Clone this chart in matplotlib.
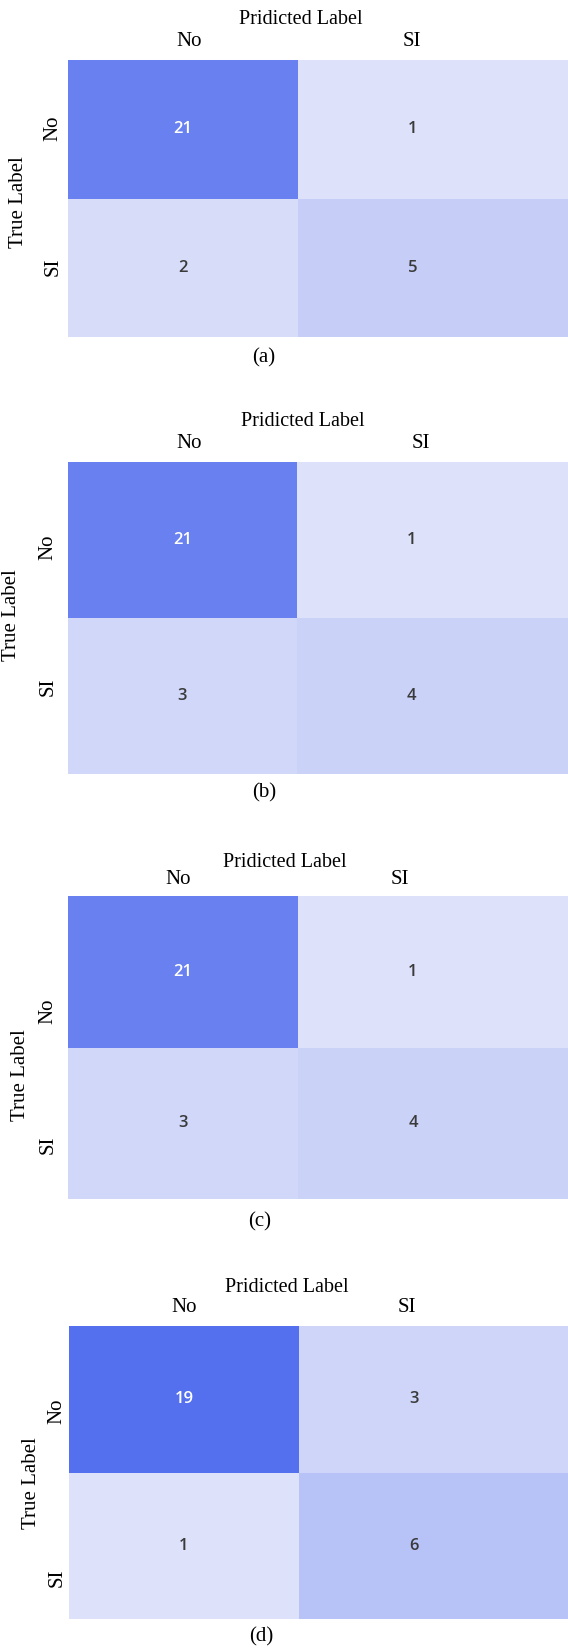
import matplotlib
matplotlib.use('Agg')
import matplotlib.pyplot as plt
import numpy as np
from matplotlib.colors import LinearSegmentedColormap

# ---------------- data ----------------
categories = ['No', 'SI']
panel_names = ['(a)', '(b)', '(c)', '(d)']
cm_a = [[21, 1], [2, 5]]
cm_b = [[21, 1], [3, 4]]
cm_c = [[21, 1], [3, 4]]
cm_d = [[19, 3], [1, 6]]
matrices = [cm_a, cm_b, cm_c, cm_d]
title_text = 'Pridicted Label'
ylabel_text = 'True Label'

# colour scale bounds per panel
color_min = [1, 1, 1, 1]
color_max = [24.25, 24.25, 24.25, 19]

# ---------------- layout (pixels) ----------------
W, H = 568, 1648
# left, top, column split, bottom of heatmap
geom = [
    (68, 60, 298, 337),
    (68, 462, 297, 774),
    (68, 896, 298, 1199),
    (69, 1326, 299, 1619),
]
# title, col labels (No, SI), row labels (No, SI), ylabel, caption : (x, y)
labels_pos = [
    dict(title=(301, 20), cols=[(189, 42), (412, 42)], rows=[(53, 128), (53, 267)],
         ylab=(19, 202), cap=(264, 358)),
    dict(title=(303, 421), cols=[(189, 443), (421, 443)], rows=[(48, 547), (48, 687)],
         ylab=(12, 615), cap=(264, 793)),
    dict(title=(285, 862), cols=[(178, 879), (400, 879)], rows=[(48, 1011), (48, 1145)],
         ylab=(21, 1075), cap=(260, 1222)),
    dict(title=(287, 1287), cols=[(184, 1307), (407, 1307)], rows=[(57, 1411), (57, 1578)],
         ylab=(32, 1483), cap=(261, 1637)),
]

cmap = LinearSegmentedColormap.from_list('cm_blue', ['#DDE1FA', '#5570EE'])
serif = 'Liberation Serif'

fig = plt.figure(figsize=(W / 100, H / 100), dpi=100)
fig.patch.set_facecolor('white')


def fx(x):
    return x / W


def fy(y):
    return 1 - y / H


for m, vmin, vmax, g, lp, name in zip(matrices, color_min, color_max, geom, labels_pos, panel_names):
    left, top, split, bottom = g
    ax = fig.add_axes([left / W, 1 - bottom / H, (W - left) / W, (bottom - top) / H])
    vals = np.array(m, dtype=float)
    x_edges = [0, 1, (W - left) / (split - left)]
    ax.pcolormesh(x_edges, [0, 1, 2], vals, cmap=cmap, vmin=vmin, vmax=vmax,
                  shading='flat')
    ax.set_xlim(0, x_edges[-1])
    ax.set_ylim(2, 0)
    ax.axis('off')
    for i in range(2):
        for j in range(2):
            v = vals[i, j]
            t = (v - vmin) / (vmax - vmin)
            col = 'white' if t > 0.5 else '#3a3a3a'
            ax.text(j + 0.5, i + 0.5, f'{int(v)}', ha='center', va='center',
                    fontsize=12, fontweight='semibold', color=col, family='Open Sans')

    fig.text(fx(lp['title'][0]), fy(lp['title'][1]), title_text, ha='center', va='center',
             fontsize=14.5, family=serif)
    for lab, (x, y) in zip(categories, lp['cols']):
        fig.text(fx(x), fy(y), lab, ha='center', va='center', fontsize=15, family=serif)
    for lab, (x, y) in zip(categories, lp['rows']):
        fig.text(fx(x), fy(y), lab, ha='center', va='center', fontsize=15, family=serif,
                 rotation=90)
    fig.text(fx(lp['ylab'][0]), fy(lp['ylab'][1]), ylabel_text, ha='center', va='center',
             fontsize=15, family=serif, rotation=90)
    fig.text(fx(lp['cap'][0]), fy(lp['cap'][1]), name, ha='center', va='center',
             fontsize=15, family=serif)

fig.savefig('out.png', dpi=100, facecolor='white')
